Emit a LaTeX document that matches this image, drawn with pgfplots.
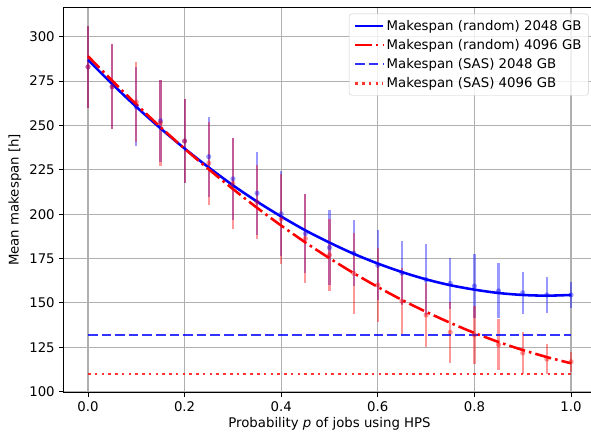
\documentclass[border=0pt]{standalone}
\usepackage{fontspec}
\setmainfont{DejaVu Sans}
\usepackage{pgfplots}
\pgfplotsset{compat=1.18}
\usepackage{pgfplotstable}

\definecolor{gridgray}{RGB}{176,176,176}
\definecolor{legedge}{RGB}{204,204,204}

% random placement, 2048 GB: mean and std
\pgfplotstableread{
x mean err
0.00 283.0 23.3
0.05 271.8 23.8
0.10 260.5 22.2
0.15 252.6 23.0
0.20 241.2 23.7
0.25 232.4 22.5
0.30 219.9 23.2
0.35 211.8 23.5
0.40 200.2 24.0
0.45 189.1 22.4
0.50 181.2 21.1
0.55 178.1 18.6
0.60 171.2 19.7
0.65 166.8 18.2
0.70 163.1 20.0
0.75 161.0 14.2
0.80 159.5 18.0
0.85 156.8 15.5
0.90 155.7 11.9
0.95 154.5 10.3
1.00 154.5 7.5
}\bluedata

% random placement, 4096 GB: mean and std
\pgfplotstableread{
x mean err
0.00 283.0 23.3
0.05 271.8 23.8
0.10 263.2 22.4
0.15 251.5 24.2
0.20 241.2 23.7
0.25 228.7 23.5
0.30 217.3 25.8
0.35 206.8 20.9
0.40 197.2 25.4
0.45 186.3 24.9
0.50 177.0 20.5
0.55 166.7 22.9
0.60 160.1 20.7
0.65 151.0 18.5
0.70 143.2 17.8
0.75 133.5 17.2
0.80 132.0 16.5
0.85 126.5 14.3
0.90 121.8 11.8
0.95 118.4 8.5
1.00 116.9 5.6
}\reddata

% fitted curves
\pgfplotstableread{
x y
0.00 287.0
0.05 273.4
0.10 260.5
0.15 248.4
0.20 237.0
0.25 226.3
0.30 216.3
0.35 207.1
0.40 198.7
0.45 190.9
0.50 184.0
0.55 177.7
0.60 172.2
0.65 167.4
0.70 163.3
0.75 160.0
0.80 157.5
0.85 155.6
0.90 154.5
0.95 154.1
1.00 154.5
}\bluefit

\pgfplotstableread{
x y
0.00 289.0
0.05 275.2
0.10 261.9
0.15 249.1
0.20 236.9
0.25 225.3
0.30 214.2
0.35 203.6
0.40 193.6
0.45 184.1
0.50 175.2
0.55 166.8
0.60 159.0
0.65 151.7
0.70 145.0
0.75 138.8
0.80 133.1
0.85 128.0
0.90 123.5
0.95 119.5
1.00 116.0
}\redfit

\begin{document}
\fontsize{13.3}{16}\selectfont
\begin{tikzpicture}
\begin{axis}[
  scale only axis,
  width=531.3pt, height=385.2pt,
  xmin=-0.05, xmax=1.05, ymin=99.55, ymax=316.56,
  xtick={0,0.2,0.4,0.6,0.8,1.0},
  ytick={100,125,150,175,200,225,250,275,300},
  xticklabel style={/pgf/number format/.cd, fixed, fixed zerofill, precision=1},
  /pgf/number format/assume math mode=true,
  ticklabel style={font=\fontsize{13.3}{16}\selectfont},
  tick align=outside,
  major tick length=4.5pt,
  xtick pos=bottom, ytick pos=left,
  tick style={black, line width=1pt},
  axis line style={black, line width=1pt},
  grid=major,
  major grid style={gridgray, line width=1.1pt},
  xlabel={Probability \textit{p} of jobs using HPS},
  ylabel={Mean makespan [h]},
  xlabel style={at={(axis description cs:0.5,0)}, anchor=center, yshift=-31.5pt},
  ylabel style={at={(axis description cs:-0.0922,0.5)}, anchor=center},
  label style={font=\fontsize{13.3}{16}\selectfont},
  legend cell align=left,
  legend image code/.code={\draw[#1] (0pt,0pt) -- (28pt,0pt);},
  legend style={at={(1,1)}, anchor=north east, xshift=-6.4pt, yshift=-6.4pt,
    draw=legedge, rounded corners=3pt, fill=white, fill opacity=0.8, text opacity=1,
    font=\fontsize{13.3}{16}\selectfont, row sep=3pt, inner xsep=5pt, inner ysep=4pt},
]
% error bars
\addplot[forget plot, only marks, blue, mark=*, mark size=2.6pt,
  mark options={draw opacity=0, fill=blue, fill opacity=0.4},
  error bars/.cd, y dir=both, y explicit, error mark=none,
  error bar style={line width=2.2pt, blue, draw opacity=0.4}]
  table[x=x, y=mean, y error=err] {\bluedata};
\addplot[forget plot, only marks, red, mark=*, mark size=2.6pt,
  mark options={draw opacity=0, fill=red, fill opacity=0.4},
  error bars/.cd, y dir=both, y explicit, error mark=none,
  error bar style={line width=2.2pt, red, draw opacity=0.4}]
  table[x=x, y=mean, y error=err] {\reddata};
% lines
\addplot[blue, line width=2.56pt, smooth, no markers] table[x=x, y=y] {\bluefit};
\addlegendentry{Makespan (random) 2048 GB}
\addplot[red, line width=2.56pt, smooth, no markers,
  dash pattern=on 16.4pt off 4.1pt on 2.56pt off 4.1pt] table[x=x, y=y] {\redfit};
\addlegendentry{Makespan (random) 4096 GB}
\addplot[blue, draw opacity=0.8, line width=2.56pt, no markers,
  dash pattern=on 9.5pt off 4.1pt] coordinates {(0,132) (1,132)};
\addlegendentry{Makespan (SAS) 2048 GB}
\addplot[red, draw opacity=0.8, line width=2.56pt, no markers,
  dash pattern=on 2.56pt off 4.2pt] coordinates {(0,110) (1,110)};
\addlegendentry{Makespan (SAS) 4096 GB}
\end{axis}
\pgfresetboundingbox
\path[use as bounding box] (current axis.south west) ++(-63.85pt,-45.5pt) rectangle ++(591pt,438pt);
\end{tikzpicture}
\end{document}
